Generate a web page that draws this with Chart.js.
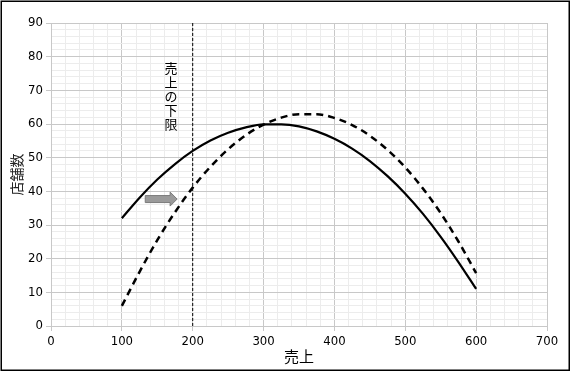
<!DOCTYPE html>
<html><head><meta charset="utf-8">
<script src="https://cdn.jsdelivr.net/npm/chart.js@4/dist/chart.umd.min.js"></script>
<style>html,body{margin:0;padding:0;background:#fff}#w{width:571px;height:372px;position:relative}</style>
</head><body><div id="w"><canvas id="c" width="571" height="372"></canvas></div>
<script>
// ---- data ----
const sales = [100,125,150,175,200,225,250,275,300,325,350,375,400,425,450,475,500,525,550,575,600];
const storesBefore = [32,38.1,43.5,48.1,52,55.1,57.4,59,59.9,59.9,59.3,57.8,55.6,52.7,49,44.5,39.3,33.3,26.5,19,11];
const storesAfter  = [6,16.1,25.5,33.8,41.1,47.3,52.5,56.7,59.8,61.9,62.9,62.9,61.8,59.7,56.5,52.3,47.1,40.8,33.5,25.1,15.7];
const lowerLimitX = 200;
const lowerLimitLabel = '売上の下限';
const xTitle = '売上';
const yTitle = '店舗数';
const xRange = [0, 700];
const yRange = [0, 90];
const arrowFromX = 133, arrowToX = 178, arrowY = 37.7;

const pts = (xs, ys) => xs.map((x,i)=>({x, y: ys[i]}));
const tickFont = {family:'DejaVu Sans Condensed', size:13};
const major = 'rgb(200,200,200)', minor = 'rgb(236,236,236)';

const extras = {
  id:'extras',
  afterDatasetsDraw(chart){
    const {ctx, scales:{x,y}} = chart;
    const x0 = x.getPixelForValue(arrowFromX), x1 = x.getPixelForValue(arrowToX);
    const yc = y.getPixelForValue(arrowY);
    const hw = 7, bh = 3.5, headL = 7;
    ctx.save();
    ctx.beginPath();
    ctx.moveTo(x0, yc-bh); ctx.lineTo(x1-headL, yc-bh); ctx.lineTo(x1-headL, yc-hw);
    ctx.lineTo(x1, yc); ctx.lineTo(x1-headL, yc+hw); ctx.lineTo(x1-headL, yc+bh);
    ctx.lineTo(x0, yc+bh); ctx.closePath();
    ctx.fillStyle = '#9a9a9a'; ctx.fill();
    ctx.strokeStyle = '#7a7a7a'; ctx.lineWidth = 1; ctx.stroke();
    ctx.fillStyle = '#000';
    ctx.font = '13px "Noto Sans CJK JP"';
    ctx.textAlign = 'center'; ctx.textBaseline = 'middle';
    const tx = x.getPixelForValue(169.5);
    let ty = y.getPixelForValue(76.6);
    for (const ch of lowerLimitLabel){ ctx.fillText(ch, tx, ty); ty += 14; }
    ctx.restore();
  },
  afterDraw(chart){
    const ctx = chart.ctx;
    ctx.save(); ctx.strokeStyle='#000'; ctx.lineWidth=1.5;
    ctx.strokeRect(1.25,1.25,568,369); ctx.restore();
  }
};

new Chart(document.getElementById('c'), {
  type:'line',
  data:{datasets:[
    {data: pts(sales, storesBefore), borderColor:'#000', borderWidth:2.2, pointRadius:0, cubicInterpolationMode:'monotone', fill:false},
    {data: pts(sales, storesAfter), borderColor:'#000', borderWidth:2.5, borderDash:[7,5], pointRadius:0, cubicInterpolationMode:'monotone', fill:false},
    {data: [{x:lowerLimitX,y:yRange[0]},{x:lowerLimitX,y:yRange[1]}], borderColor:'#000', borderWidth:1, borderDash:[3,2], pointRadius:0, fill:false}
  ]},
  options:{
    responsive:false, animation:false, devicePixelRatio:1,
    layout:{padding:{left:0,top:23,right:24,bottom:0}},
    plugins:{legend:{display:false}, tooltip:{enabled:false}},
    scales:{
      x:{type:'linear', min:xRange[0], max:xRange[1],
        afterFit(s){ s.height = 46; },
        ticks:{stepSize:20, autoSkip:false, maxRotation:0, color:'#000', font:tickFont, padding:3,
          callback:v => v%100===0 ? String(v) : ''},
        grid:{color:c => (c.tick && c.tick.value%100===0) ? major : minor,
          tickColor:c => (c.tick && c.tick.value%100===0) ? major : 'rgba(0,0,0,0)', tickLength:5},
        border:{color:major},
        title:{display:true, text:xTitle, color:'#000', font:{family:'Noto Sans CJK JP', size:15}, padding:{top:0,bottom:7}}
      },
      y:{type:'linear', min:yRange[0], max:yRange[1],
        afterFit(s){ s.width = 51; },
        ticks:{stepSize:2, autoSkip:false, color:'#000', font:tickFont, padding:3,
          callback:v => v%10===0 ? String(v) : ''},
        grid:{color:c => (c.tick && c.tick.value%10===0) ? major : minor,
          tickColor:c => (c.tick && c.tick.value%10===0) ? major : 'rgba(0,0,0,0)', tickLength:5},
        border:{color:major},
        title:{display:true, text:yTitle, color:'#222', font:{family:'Noto Sans CJK JP', size:14}, padding:{top:8,bottom:0}}
      }
    }
  },
  plugins:[extras]
});
</script></body></html>
